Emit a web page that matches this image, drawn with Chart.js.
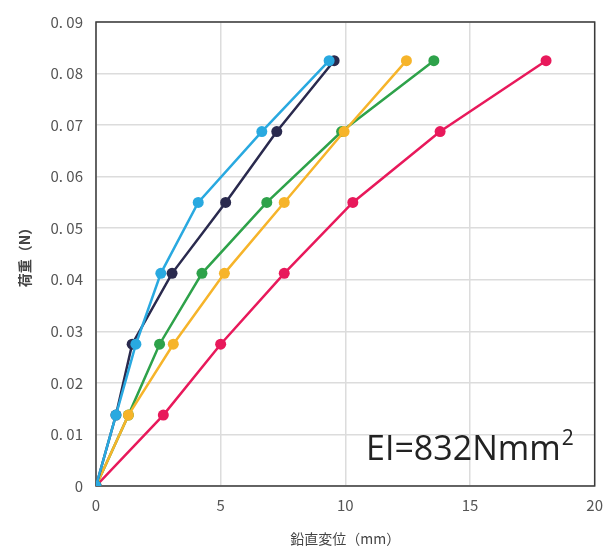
<!DOCTYPE html>
<html lang="ja">
<head>
<meta charset="UTF-8">
<title>荷重と鉛直変位</title>
<script src="https://cdn.jsdelivr.net/npm/chart.js"></script>
<style>
    html, body { margin: 0; padding: 0; background: #fff; }
    #wrap { width: 613px; height: 547px; position: relative; }
</style>
</head>
<body>
<div id="wrap"><canvas id="deflectionChart"></canvas></div>
<script>
// 荷重 (N) — shared by every series
const loads = [0, 0.01375, 0.0275, 0.04125, 0.055, 0.06875, 0.0825];

// 鉛直変位 (mm) for each specimen
const dispBlue   = [0, 0.8, 1.6, 2.6, 4.1, 6.65, 9.35];
const dispNavy   = [0, 0.8, 1.45, 3.05, 5.2, 7.25, 9.55];
const dispGreen  = [0, 1.3, 2.55, 4.25, 6.85, 9.85, 13.55];
const dispYellow = [0, 1.3, 3.1, 5.15, 7.55, 9.95, 12.45];
const dispRed    = [0, 2.7, 5.0, 7.55, 10.3, 13.8, 18.05];

const yTickLabels = ['0', '0. 01', '0. 02', '0. 03', '0. 04', '0. 05', '0. 06', '0. 07', '0. 08', '0. 09'];
const xTickLabels = ['0', '5', '10', '15', '20'];

function toPoints(xs) {
    return xs.map((x, i) => ({ x: x, y: loads[i] }));
}

function series(xs, color) {
    return {
        data: toPoints(xs),
        borderColor: color,
        backgroundColor: color,
        borderWidth: 2.5,
        pointRadius: 5.5,
        pointHoverRadius: 5.5,
        pointBorderWidth: 0,
        tension: 0
    };
}

// box around the plot area
const frame = {
    id: 'frame',
    beforeDatasetsDraw(chart) {
        const a = chart.chartArea;
        const ctx = chart.ctx;
        ctx.save();
        ctx.strokeStyle = '#3a3a3a';
        ctx.lineWidth = 1.5;
        ctx.strokeRect(a.left, a.top, a.right - a.left, a.bottom - a.top);
        ctx.restore();
    }
};

// bending stiffness note in the lower right
const note = {
    id: 'note',
    afterDraw(chart) {
        const ctx = chart.ctx;
        ctx.save();
        ctx.fillStyle = '#222';
        ctx.textBaseline = 'alphabetic';
        ctx.font = '34px "Open Sans", sans-serif';
        const main = 'EI=832Nmm';
        const x0 = 366, y0 = 460;
        ctx.fillText(main, x0, y0);
        const w = ctx.measureText(main).width;
        ctx.font = '21px "Open Sans", sans-serif';
        ctx.fillText('2', x0 + w + 1, y0 - 15);
        ctx.restore();
    }
};

const tickFont = { family: '"Noto Sans CJK JP", sans-serif', size: 15 };

new Chart(document.getElementById('deflectionChart'), {
    type: 'line',
    data: {
        // first dataset ends up on top
        datasets: [
            series(dispBlue, '#29a9e0'),
            series(dispNavy, '#2a2a4e'),
            series(dispYellow, '#f6b42a'),
            series(dispGreen, '#2ea24a'),
            series(dispRed, '#e8195b')
        ]
    },
    options: {
        responsive: true,
        maintainAspectRatio: false,
        animation: false,
        layout: { padding: { left: 16, right: 15, top: 22, bottom: 0 } },
        plugins: {
            legend: { display: false },
            tooltip: { enabled: false }
        },
        scales: {
            x: {
                type: 'linear',
                min: 0,
                max: 20,
                afterFit: s => { s.height = 61; },
                afterBuildTicks: s => { s.ticks = xTickLabels.map(v => ({ value: Number(v) })); },
                grid: { color: '#dcdcdc', lineWidth: 1.5, drawTicks: false },
                border: { display: false },
                ticks: {
                    padding: 10,
                    color: '#555',
                    font: tickFont,
                    callback: (v, i) => xTickLabels[i]
                },
                title: {
                    display: true,
                    text: '鉛直変位（mm）',
                    color: '#444',
                    font: { family: '"Noto Sans CJK JP", sans-serif', size: 14 },
                    padding: { top: 2, bottom: 0 }
                }
            },
            y: {
                type: 'linear',
                min: 0,
                max: 0.09,
                afterFit: s => { s.width = 80; },
                afterBuildTicks: s => { s.ticks = yTickLabels.map((t, i) => ({ value: i * 0.01 })); },
                grid: { color: '#dcdcdc', lineWidth: 1.5, drawTicks: false },
                border: { display: false },
                ticks: {
                    padding: 13,
                    color: '#555',
                    font: tickFont,
                    callback: (v, i) => yTickLabels[i]
                },
                title: {
                    display: true,
                    text: '荷重（N）',
                    color: '#444',
                    font: { family: '"Noto Sans CJK JP", sans-serif', size: 14, weight: 'bold' },
                    padding: { top: 0, bottom: 0 }
                }
            }
        }
    },
    plugins: [frame, note]
});
</script>
</body>
</html>
